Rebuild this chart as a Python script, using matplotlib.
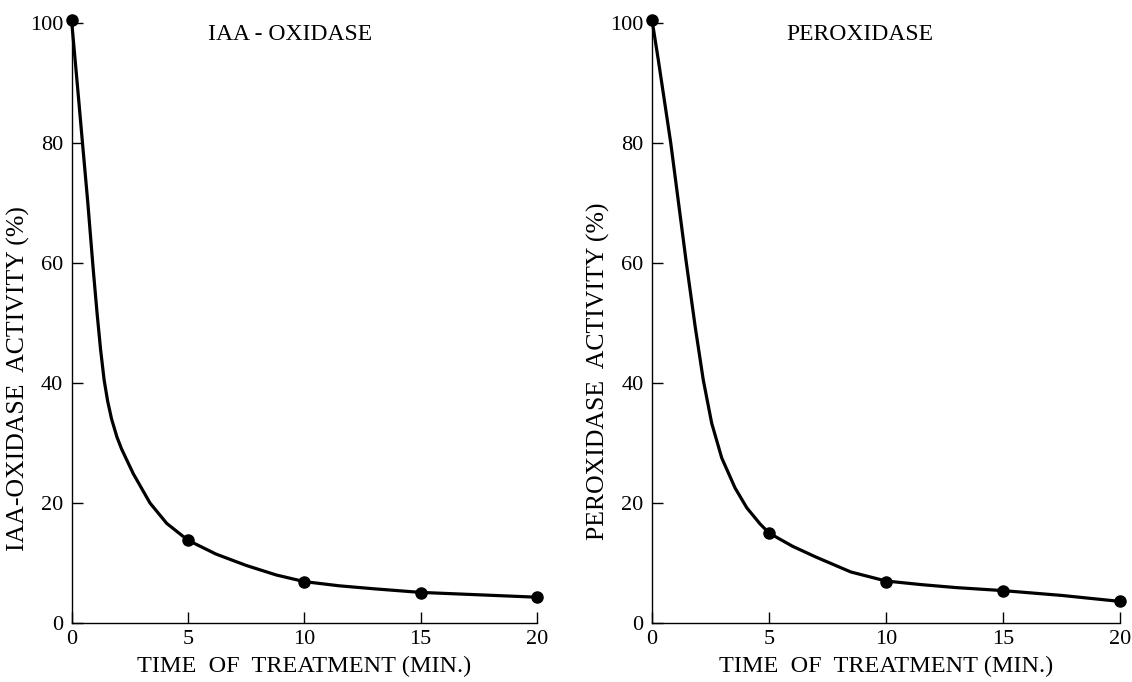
import matplotlib
matplotlib.use('Agg')
import matplotlib.pyplot as plt

# measured points
times = [0, 5, 10, 15, 20]
iaa_points = [100.5, 13.8, 6.8, 5.0, 4.3]
perox_points = [100.5, 15.0, 6.9, 5.4, 3.6]

# hand-drawn curve
iaa_curve_t = [0, 0.3, 0.47, 0.7, 0.93, 1.1, 1.25, 1.4, 1.55, 1.72, 1.95, 2.15, 2.65, 3.37,
               4.09, 5, 6.2, 7.5, 8.8, 10, 11.5, 13, 15, 17.5, 20]
iaa_curve_v = [100.5, 87.5, 80, 70, 59, 51.5, 45.5, 40.5, 37, 34, 31, 29, 24.9, 20,
               16.6, 13.8, 11.5, 9.6, 8.0, 6.9, 6.2, 5.7, 5.1, 4.7, 4.3]
perox_curve_t = [0, 0.27, 0.8, 1.45, 1.84, 2.19, 2.55, 2.98, 3.55, 4.05, 4.62, 5,
                 6, 7, 8.5, 10, 11.5, 13, 15, 17.5, 20]
perox_curve_v = [100.5, 93.8, 80, 60.5, 49.5, 40.5, 33.3, 27.5, 22.5, 19.2, 16.5, 15.0,
                 12.8, 11.0, 8.5, 7.0, 6.4, 5.9, 5.4, 4.6, 3.6]

titles = ['IAA - OXIDASE', 'PEROXIDASE']
ylabels = ['IAA-OXIDASE  ACTIVITY (%)', 'PEROXIDASE  ACTIVITY (%)']
xlabel = 'TIME  OF  TREATMENT (MIN.)'

plt.rcParams['font.family'] = ['Liberation Serif', 'DejaVu Serif']

fig = plt.figure(figsize=(11.32, 6.82), dpi=100)
ax1 = fig.add_axes([0.0632, 0.0865, 0.4112, 0.8798])
ax2 = fig.add_axes([0.576, 0.0865, 0.4134, 0.8798])

panels = [
    (ax1, iaa_curve_t, iaa_curve_v, iaa_points, titles[0], ylabels[0], 0.47, 0.408),
    (ax2, perox_curve_t, perox_curve_v, perox_points, titles[1], ylabels[1], 0.445, 0.42),
]

for ax, ct, cv, pts, title, ylab, tx, ly in panels:
    ax.plot(ct, cv, color='black', lw=2.3, clip_on=False,
            solid_capstyle='round', solid_joinstyle='round')
    ax.plot(times, pts, 'o', color='black', markersize=8, clip_on=False, zorder=3)
    ax.set_xlim(0, 20)
    ax.set_ylim(0, 100)
    ax.set_xticks([0, 5, 10, 15, 20])
    ax.set_yticks([0, 20, 40, 60, 80, 100])
    for s in ['top', 'right']:
        ax.spines[s].set_visible(False)
    for s in ['left', 'bottom']:
        ax.spines[s].set_linewidth(1.0)
    ax.tick_params(axis='both', direction='in', length=8, width=1.0, labelsize=16)
    ax.tick_params(axis='y', pad=6)
    ax.tick_params(axis='x', pad=5)
    ax.set_ylabel(ylab, fontsize=18.5)
    ax.yaxis.set_label_coords(-0.09, ly)
    ax.set_xlabel(xlabel, fontsize=17.5)
    ax.xaxis.set_label_coords(0.5, -0.055)
    ax.text(tx, 0.98, title, transform=ax.transAxes, ha='center', va='center', fontsize=17)

plt.savefig('out.png', dpi=100)
plt.close()
